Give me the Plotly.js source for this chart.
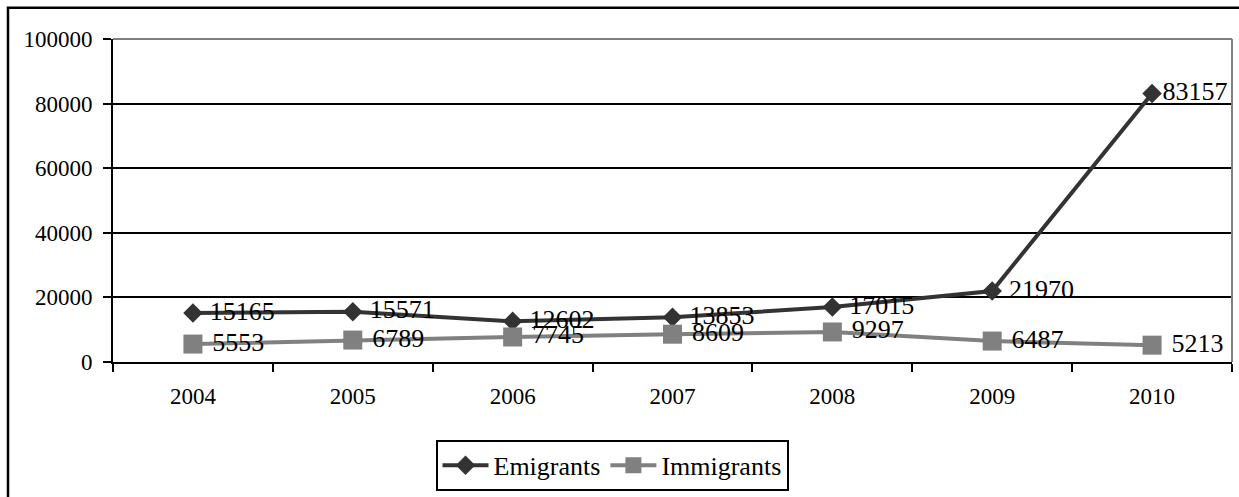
<!DOCTYPE html>
<html>
<head>
<meta charset="utf-8">
<script src="https://cdn.plot.ly/plotly-3.0.1.min.js"></script>
<style>html,body{margin:0;padding:0;background:#fff;}#chart{width:1239px;height:497px;}</style>
</head>
<body>
<div id="chart"></div>
<script>
const years = ["2004","2005","2006","2007","2008","2009","2010"];
const emigrants = [15165, 15571, 12602, 13853, 17015, 21970, 83157];
const immigrants = [5553, 6789, 7745, 8609, 9297, 6487, 5213];
const seriesNames = ["Emigrants", "Immigrants"];
// labels that sit tight against their marker (the last emigrant label is nudged inside the plot)
const emigrantTightLabel = [false, false, false, false, false, false, true];

const fontFam = "Liberation Serif";
const lbl = (v, tight) => (tight ? "" : "\u00a0") + String(v);
const traces = [
  {
    x: years, y: emigrants, name: seriesNames[0], type: "scatter", mode: "lines+markers+text",
    text: emigrants.map((v, i) => lbl(v, emigrantTightLabel[i])), textposition: "middle right",
    textfont: {family: fontFam, size: 26, color: "#000"},
    line: {color: "#333333", width: 4},
    marker: {symbol: "diamond", size: 15, color: "#333333"},
    cliponaxis: false
  },
  {
    x: years, y: immigrants, name: seriesNames[1], type: "scatter", mode: "lines+markers+text",
    text: immigrants.map(v => lbl(v, false)), textposition: "middle right",
    textfont: {family: fontFam, size: 26, color: "#000"},
    line: {color: "#808080", width: 4},
    marker: {symbol: "square", size: 19, color: "#808080"},
    cliponaxis: false
  }
];

const L = 113, R = 1232, T = 38.5, B = 363;
const W = R - L, H = B - T;
const px = v => (v - L) / W;
const py = v => (B - v) / H;

const layout = {
  width: 1239, height: 497,
  margin: {l: L, r: 1239 - R, t: T, b: 497 - B},
  paper_bgcolor: "#fff", plot_bgcolor: "#fff",
  font: {family: fontFam, color: "#000"},
  showlegend: true,
  legend: {
    orientation: "h", x: px(612), xanchor: "center", y: py(440), yanchor: "top",
    font: {family: fontFam, size: 26, color: "#000"},
    bordercolor: "#000", borderwidth: 2, bgcolor: "#fff",
    itemwidth: 46
  },
  xaxis: {
    type: "category", showgrid: false, zeroline: false,
    showline: true, linecolor: "#000", linewidth: 2,
    ticks: "outside", tickson: "boundaries", ticklen: 8, tickwidth: 2, tickcolor: "#000",
    tickfont: {family: fontFam, size: 23, color: "#000"},
    ticklabelstandoff: 12,
    range: [-0.5, 6.5], fixedrange: true
  },
  yaxis: {
    range: [0, 100000], dtick: 20000, tick0: 0, tickformat: "d",
    showgrid: true, gridcolor: "#000", gridwidth: 2,
    zeroline: false, showline: true, linecolor: "#000", linewidth: 2,
    ticks: "outside", ticklen: 8, tickwidth: 2, tickcolor: "#000",
    tickfont: {family: fontFam, size: 23, color: "#000"},
    ticklabelstandoff: 6
  },
  shapes: [
    {type: "rect", xref: "paper", yref: "paper", x0: px(8), x1: px(1250), y0: py(510), y1: py(7),
     line: {color: "#000", width: 2.5}, fillcolor: "rgba(0,0,0,0)", layer: "below"},
    {type: "line", xref: "paper", yref: "paper", x0: 0, x1: 1, y0: 1, y1: 1, line: {color: "#808080", width: 2}},
    {type: "line", xref: "paper", yref: "paper", x0: 1, x1: 1, y0: 0, y1: 1, line: {color: "#808080", width: 2}}
  ]
};

Plotly.newPlot("chart", traces, layout, {displayModeBar: false, staticPlot: true});
</script>
</body>
</html>
